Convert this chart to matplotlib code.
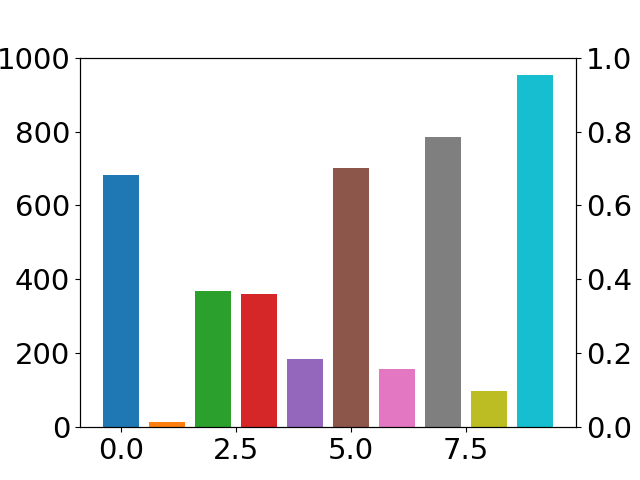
import matplotlib
matplotlib.use("Agg")
import matplotlib.pyplot as plt
import numpy as np

plt.rcParams['font.size'] = 21

positions = np.arange(10)
heights = [683, 14, 369, 361, 185, 700, 157, 784, 98, 953]
colors = ['C0', 'C1', 'C2', 'C3', 'C4', 'C5', 'C6', 'C7', 'C8', 'C9']

fig, ax = plt.subplots(figsize=(6.4, 4.8), dpi=100)
ax.bar(positions, heights, color=colors)
ax.set_ylim(0, 1000)
ax.set_xticks([0.0, 2.5, 5.0, 7.5])

ax2 = ax.twinx()
ax2.set_ylim(0, 1.0)

fig.savefig('out.png')
